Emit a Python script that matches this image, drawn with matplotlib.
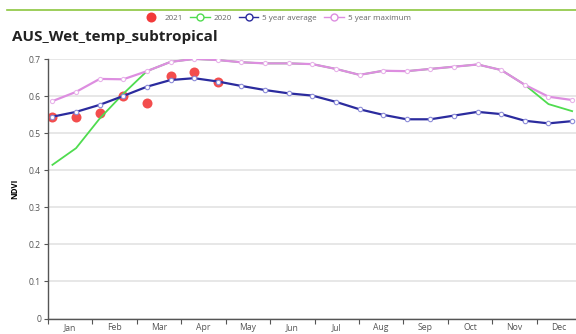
import matplotlib
matplotlib.use("Agg")
import matplotlib.pyplot as plt
from matplotlib.lines import Line2D
import numpy as np

plt.rcParams["font.family"] = ["Open Sans", "DejaVu Sans"]

# 16-day NDVI composites, 23 per year
months = ["Jan", "Feb", "Mar", "Apr", "May", "Jun", "Jul", "Aug", "Sep", "Oct", "Nov", "Dec"]
ndvi_2021 = [0.545, 0.545, 0.556, 0.601, 0.581, 0.655, 0.666, 0.638]
ndvi_2020 = [0.415, 0.460, 0.540, 0.607, 0.668, 0.693, 0.701, 0.698, 0.692, 0.689, 0.689,
             0.687, 0.674, 0.658, 0.669, 0.668, 0.674, 0.680, 0.686, 0.671, 0.631, 0.579, 0.560]
ndvi_avg5 = [0.545, 0.558, 0.577, 0.601, 0.626, 0.644, 0.649, 0.640, 0.628, 0.617, 0.608,
             0.602, 0.585, 0.565, 0.550, 0.538, 0.538, 0.548, 0.558, 0.552, 0.534, 0.527, 0.533]
ndvi_max5 = [0.587, 0.612, 0.647, 0.646, 0.668, 0.693, 0.701, 0.698, 0.692, 0.689, 0.689,
             0.687, 0.674, 0.658, 0.669, 0.668, 0.674, 0.680, 0.686, 0.671, 0.631, 0.599, 0.590]

# composite index -> position on the month axis (0 = start of Jan)
period = np.arange(len(ndvi_avg5))
xpos = 0.1 + period * 11.7 / 22

RED = "#f23a3a"
GREEN = "#4fdc4f"
BLUE = "#2b2b9e"
PINK = "#dd8ee0"

fig = plt.figure(figsize=(5.76, 3.34), dpi=100)
ax = fig.add_axes([48 / 576, 15.5 / 334, 533 / 576, 259.2 / 334])

ax.plot(xpos[:len(ndvi_2021)], ndvi_2021, "o", color=RED, ms=7.2, mec="none", alpha=0.9, zorder=2)
ax.plot(xpos, ndvi_2020, color=GREEN, lw=1.3, zorder=3)
ax.plot(xpos, ndvi_avg5, color=BLUE, lw=1.6, marker="o", ms=3.2, mfc="white",
        mec="#8c8cd8", mew=0.8, zorder=4)
ax.plot(xpos, ndvi_max5, color=PINK, lw=1.6, marker="o", ms=3.0, mfc="white",
        mec="#e8b4ea", mew=0.8, zorder=5)

ax.set_xlim(0, 12)
ax.set_ylim(0, 0.7)
ax.set_yticks(np.arange(0, 0.71, 0.1))
ax.set_yticklabels(["0", "0.1", "0.2", "0.3", "0.4", "0.5", "0.6", "0.7"])
ax.set_xticks(np.arange(0, 13))
ax.set_xticklabels([])
ax.set_xticks(np.arange(12) + 0.5, minor=True)
ax.set_xticklabels(months, minor=True)
ax.tick_params(axis="x", which="major", length=3.5, width=0.8, color="#555555")
ax.tick_params(axis="x", which="minor", length=0, pad=3, labelsize=6.2, labelcolor="#555555")
ax.tick_params(axis="y", length=3, width=0.8, color="#555555", pad=2, labelsize=6.2, labelcolor="#555555")

ax.grid(axis="y", color="#e3e3e3", lw=1.2)
ax.set_axisbelow(True)
for side in ("top", "right"):
    ax.spines[side].set_visible(False)
for side in ("left", "bottom"):
    ax.spines[side].set_color("#555555")
    ax.spines[side].set_linewidth(1.0)

ax.set_ylabel("NDVI", fontsize=5.8, fontweight="bold", labelpad=7)

fig.text(12 / 576, 1 - 37 / 334, "AUS_Wet_temp_subtropical", fontsize=11,
         fontweight="bold", color="#222222", va="center", ha="left")

handles = [
    Line2D([], [], ls="none", marker="o", color=RED, ms=7.2, mec="none"),
    Line2D([], [], color=GREEN, lw=1, marker="o", ms=5, mfc="white", mec=GREEN),
    Line2D([], [], color=BLUE, lw=1, marker="o", ms=5, mfc="white", mec=BLUE),
    Line2D([], [], color=PINK, lw=1, marker="o", ms=5, mfc="white", mec=PINK),
]
fig.legend(handles, ["2021", "2020", "5 year average", "5 year maximum"],
           loc="center", bbox_to_anchor=(276 / 576, 1 - 18 / 334), ncol=4, frameon=False,
           fontsize=5.8, labelcolor="#666666", handlelength=2.4, handletextpad=0.5,
           columnspacing=0.9)

# green rule across the top
fig.add_artist(Line2D([7 / 576, 1], [1 - 9.5 / 334] * 2, color="#8cc63e", lw=1.2))

fig.savefig("out.png", dpi=100)
